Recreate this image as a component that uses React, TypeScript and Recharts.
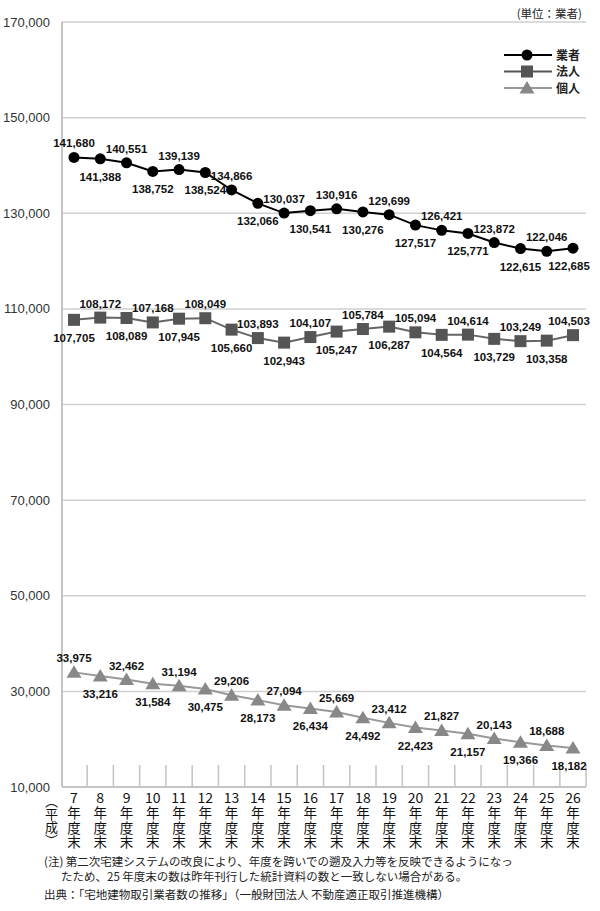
import React from 'react';
import { LineChart, Line, XAxis, YAxis, CartesianGrid, LabelList } from 'recharts';

const categories = ['7', '8', '9', '10', '11', '12', '13', '14', '15', '16', '17', '18', '19', '20', '21', '22', '23', '24', '25', '26'];
const gyosha = [141680, 141388, 140551, 138752, 139139, 138524, 134866, 132066, 130037, 130541, 130916, 130276, 129699, 127517, 126421, 125771, 123872, 122615, 122046, 122685];
const hojin = [107705, 108172, 108089, 107168, 107945, 108049, 105660, 103893, 102943, 104107, 105247, 105784, 106287, 105094, 104564, 104614, 103729, 103249, 103358, 104503];
const kojin = [33975, 33216, 32462, 31584, 31194, 30475, 29206, 28173, 27094, 26434, 25669, 24492, 23412, 22423, 21827, 21157, 20143, 19366, 18688, 18182];
const yTicks = [10000, 30000, 50000, 70000, 90000, 110000, 130000, 150000, 170000];
const seriesNames = ['業者', '法人', '個人'];
const tickChars = ['年', '度', '末'];

const data = categories.map((c, i) => ({ cat: c, gyosha: gyosha[i], hojin: hojin[i], kojin: kojin[i] }));

const W = 600;
const H = 911;
const MARGIN = { top: 22, right: 14, bottom: 54, left: 0 };
const Y_W = 62;
const X_H = 70;
const PAD_L = 12;
const PAD_R = 13;
const PLOT_W = W - MARGIN.left - MARGIN.right - Y_W;
const STEP = (PLOT_W - PAD_L - PAD_R) / (categories.length - 1);

const CJK = '"Noto Sans CJK JP", "Noto Sans", sans-serif';
const NUM = '"Liberation Sans", Arial, sans-serif';

const fmt = (v: number) => v.toLocaleString('en-US');

const XTick = (props: any) => {
  const { x, y, payload } = props;
  return (
    <g>
      <line x1={x + STEP / 2} x2={x + STEP / 2} y1={y} y2={y - 22} stroke="#c4c4c4" strokeWidth={1.5} />
      <text x={x} y={y + 16} textAnchor="middle" fontSize={14} fill="#111" fontFamily={CJK}>{payload.value}</text>
      {tickChars.map((ch, i) => (
        <text key={i} x={x} y={y + 31 + i * 14.5} textAnchor="middle" fontSize={13.5} fill="#111" fontFamily={CJK}>{ch}</text>
      ))}
    </g>
  );
};

const makeLabel = (aboveEven: boolean) => (props: any) => {
  const { x, y, value, index } = props;
  const above = (index % 2 === 0) === aboveEven;
  const dx = index === categories.length - 1 ? -4 : 0;
  return (
    <text x={x + dx} y={above ? y - 10 : y + 22} textAnchor="middle" fontSize={11.5} fontWeight="bold" fill="#111" fontFamily={NUM}>
      {fmt(value)}
    </text>
  );
};

const Square = (props: any) => {
  const { cx, cy } = props;
  return <rect x={cx - 6} y={cy - 6} width={12} height={12} fill="#555" />;
};
const Triangle = (props: any) => {
  const { cx, cy } = props;
  return <polygon points={`${cx},${cy - 7} ${cx + 7.5},${cy + 5.5} ${cx - 7.5},${cy + 5.5}`} fill="#888" />;
};
const Circle = (props: any) => {
  const { cx, cy } = props;
  return <circle cx={cx} cy={cy} r={5.5} fill="#000" />;
};

const legendItems = [
  { name: seriesNames[0], color: '#000', marker: 'circle' },
  { name: seriesNames[1], color: '#555', marker: 'square' },
  { name: seriesNames[2], color: '#999', marker: 'triangle' },
];

export default function App() {
  return (
    <div style={{ position: 'absolute', left: 0, top: 0, width: W, height: H, background: '#fff' }}>
      <LineChart width={W} height={H} data={data} margin={MARGIN}>
        <CartesianGrid vertical={false} stroke="#cfcfcf" strokeWidth={1.5} />
        <XAxis
          dataKey="cat"
          height={X_H}
          tick={<XTick />}
          tickLine={false}
          tickSize={0}
          tickMargin={0}
          interval={0}
          padding={{ left: PAD_L, right: PAD_R }}
          axisLine={{ stroke: '#c4c4c4', strokeWidth: 2 }}
        />
        <YAxis
          width={Y_W}
          domain={[10000, 170000]}
          ticks={yTicks}
          tickFormatter={fmt}
          tickLine={false}
          tickMargin={6}
          axisLine={{ stroke: '#c4c4c4', strokeWidth: 2 }}
          tick={{ fontSize: 13, fill: '#333', fontFamily: NUM }}
        />
        <Line dataKey="gyosha" stroke="#000" strokeWidth={2} dot={<Circle />} isAnimationActive={false}>
          <LabelList dataKey="gyosha" content={makeLabel(true)} />
        </Line>
        <Line dataKey="hojin" stroke="#666" strokeWidth={2} dot={<Square />} isAnimationActive={false}>
          <LabelList dataKey="hojin" content={makeLabel(false)} />
        </Line>
        <Line dataKey="kojin" stroke="#999" strokeWidth={2} dot={<Triangle />} isAnimationActive={false}>
          <LabelList dataKey="kojin" content={makeLabel(true)} />
        </Line>
      </LineChart>

      <div style={{ position: 'absolute', right: 18, top: 5, fontSize: 11.5, fontFamily: CJK, color: '#222' }}>(単位：業者)</div>

      <svg style={{ position: 'absolute', left: 490, top: 45 }} width={100} height={56}>
        {legendItems.map((it, i) => {
          const cy = 10 + i * 16.5;
          return (
            <g key={i}>
              <line x1={14} x2={62} y1={cy} y2={cy} stroke={it.color} strokeWidth={2} />
              {it.marker === 'circle' && <circle cx={37} cy={cy} r={5.5} fill="#000" />}
              {it.marker === 'square' && <rect x={31} y={cy - 6} width={12} height={12} fill="#555" />}
              {it.marker === 'triangle' && <polygon points={`37,${cy - 7} 44.5,${cy + 5.5} 29.5,${cy + 5.5}`} fill="#888" />}
              <text x={66} y={cy + 4.5} fontSize={12} fontWeight="bold" fontFamily={CJK} fill="#222">{it.name}</text>
            </g>
          );
        })}
      </svg>

      <div style={{ position: 'absolute', left: 43, top: 795, fontSize: 13, lineHeight: '16px', fontFamily: CJK, color: '#111', writingMode: 'vertical-rl' }}>（平成）</div>

      <div style={{ position: 'absolute', left: 44, top: 854, fontSize: 11.5, fontFamily: CJK, color: '#222', lineHeight: '15px' }}>
        <div>(注) 第二次宅建システムの改良により、年度を跨いでの遡及入力等を反映できるようになっ</div>
        <div style={{ paddingLeft: 17 }}>たため、25 年度末の数は昨年刊行した統計資料の数と一致しない場合がある。</div>
        <div style={{ marginTop: 3 }}>出典：「宅地建物取引業者数の推移」（一般財団法人 不動産適正取引推進機構）</div>
      </div>
    </div>
  );
}
